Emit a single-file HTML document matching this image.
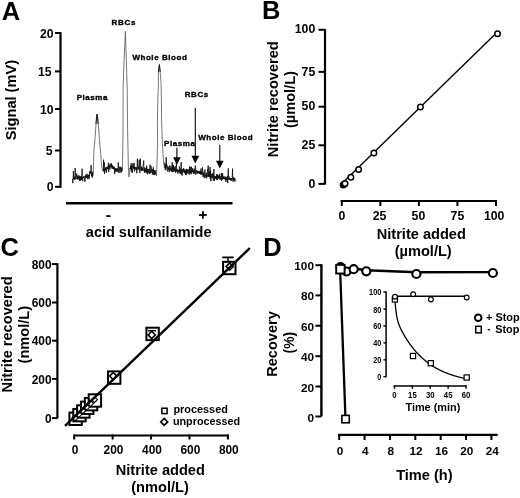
<!DOCTYPE html>
<html><head><meta charset="utf-8"><style>
html,body{margin:0;padding:0;background:#fff;}
svg{display:block;will-change:transform;}
text{font-family:"Liberation Sans",sans-serif;font-weight:bold;fill:#000;}
</style></head><body>
<svg width="520" height="498" viewBox="0 0 520 498">
<rect width="520" height="498" fill="#fff"/>
<text x="1.8" y="19.6" font-size="25.5" text-anchor="start" >A</text>
<line x1="60.5" y1="32" x2="60.5" y2="187.8" stroke="#000" stroke-width="2.2"/>
<line x1="55" y1="33" x2="60.5" y2="33" stroke="#000" stroke-width="2"/>
<text x="53.5" y="37.6" font-size="12.2" text-anchor="end" >20</text>
<line x1="55" y1="71.4" x2="60.5" y2="71.4" stroke="#000" stroke-width="2"/>
<text x="51.5" y="76.0" font-size="12.2" text-anchor="end" >15</text>
<line x1="55" y1="109" x2="60.5" y2="109" stroke="#000" stroke-width="2"/>
<text x="53.5" y="113.6" font-size="12.2" text-anchor="end" >10</text>
<line x1="55" y1="150.5" x2="60.5" y2="150.5" stroke="#000" stroke-width="2"/>
<text x="52.5" y="155.1" font-size="12.2" text-anchor="end" >5</text>
<line x1="55" y1="186.8" x2="60.5" y2="186.8" stroke="#000" stroke-width="2"/>
<text x="53.5" y="191.4" font-size="12.2" text-anchor="end" >0</text>
<text transform="translate(16.1,100.1) rotate(-90)" font-size="14.6" text-anchor="middle" >Signal (mV)</text>
<line x1="66" y1="203.2" x2="232.5" y2="203.2" stroke="#000" stroke-width="2.5"/>
<rect x="106.2" y="215.2" width="4.3" height="1.8" fill="#000"/>
<rect x="199" y="214.1" width="7.8" height="1.8" fill="#000"/>
<rect x="202" y="211.2" width="1.8" height="7.5" fill="#000"/>
<text x="148.7" y="236.5" font-size="14.5" text-anchor="middle" >acid sulfanilamide</text>
<polyline fill="none" stroke="#111" stroke-width="0.85" stroke-linejoin="bevel" points="72.50,178.86 72.80,183.14 73.10,178.81 73.40,170.96 73.70,179.11 74.00,177.27 74.30,179.31 74.60,176.70 74.90,180.00 75.20,167.99 75.50,178.65 75.80,176.63 76.10,178.86 76.40,176.56 76.70,173.58 77.00,175.97 77.30,179.21 77.60,175.88 77.90,179.85 78.20,177.16 78.50,178.49 78.80,175.25 79.10,178.59 79.40,176.13 79.70,181.04 80.00,176.11 80.30,180.93 80.60,176.83 80.90,179.33 81.20,176.26 81.50,179.84 81.80,176.28 82.10,168.67 82.40,176.69 82.70,181.20 83.00,176.85 83.30,177.93 83.60,176.54 83.90,178.09 84.20,176.34 84.50,177.53 84.80,181.84 85.10,180.92 85.40,175.35 85.70,177.53 86.00,174.48 86.30,178.02 86.60,175.87 86.90,177.07 87.20,173.91 87.50,178.56 87.80,175.75 88.10,179.15 88.40,174.83 88.70,176.61 89.00,174.92 89.30,178.44 89.60,173.00 89.90,171.13 90.20,173.57 90.50,171.43 90.80,173.54 91.10,165.14 91.40,173.75 91.70,176.30 92.00,173.50 92.30,177.66 92.60,171.66 92.90,175.41 93.20,173.52"/>
<polyline fill="none" stroke="#555" stroke-width="0.8" points="93.20,173.52 93.30,172.00 93.60,160.00 94.00,148.00 94.50,145.00 95.20,136.00 96.00,124.00 96.70,116.00 97.10,114.20 97.50,117.00 98.20,124.00 99.00,133.00 99.60,142.00 100.20,148.00 100.80,155.00 101.50,165.00 102.30,170.00 103.30,171.21"/>
<polyline fill="none" stroke="#111" stroke-width="0.9" points="96.00,124.00 96.70,116.00 97.10,114.20 97.50,117.00 98.20,124.00"/>
<polyline fill="none" stroke="#111" stroke-width="0.85" stroke-linejoin="bevel" points="103.30,171.21 103.60,159.68 103.90,171.56 104.20,162.30 104.50,173.79 104.80,168.78 105.10,170.63 105.40,168.12 105.70,169.86 106.00,167.02 106.30,172.70 106.60,167.86 106.90,168.87 107.20,166.49 107.50,168.80 107.80,167.30 108.10,169.56 108.40,162.75 108.70,172.03 109.00,166.22 109.30,167.32 109.60,164.97 109.90,169.53 110.20,163.71 110.50,166.69 110.80,165.11 111.10,167.41 111.40,163.24 111.70,167.54 112.00,164.95 112.30,168.94 112.60,165.76 112.90,168.29 113.20,166.44 113.50,168.67 113.80,166.82 114.10,169.74 114.40,166.87 114.70,174.08 115.00,168.34 115.30,171.57 115.60,168.49 115.90,170.65 116.20,168.23 116.50,171.49 116.80,168.72 117.10,171.60 117.40,168.42 117.70,171.61 118.00,168.14 118.30,162.46 118.60,168.64 118.90,173.04 119.20,168.88 119.50,170.06 119.80,166.57 120.10,172.54 120.40,167.64 120.70,169.47 121.00,167.15 121.30,172.34 121.60,167.70 121.90,171.40 122.20,167.71"/>
<polyline fill="none" stroke="#555" stroke-width="0.8" points="122.20,167.71 122.40,170.00 122.80,150.00 123.00,130.00 123.10,88.30 124.10,60.00 125.40,31.30 126.30,60.00 127.20,88.30 127.60,130.00 128.30,165.00 129.00,177.00 130.00,168.00 130.20,169.52"/>
<polyline fill="none" stroke="#111" stroke-width="0.9" points="125.40,31.30"/>
<polyline fill="none" stroke="#111" stroke-width="0.85" stroke-linejoin="bevel" points="130.20,169.52 130.50,165.99 130.80,168.65 131.10,163.25 131.40,171.60 131.70,165.26 132.00,171.25 132.30,173.01 132.60,168.59 132.90,163.28 133.20,168.41 133.50,166.28 133.80,168.82 134.10,162.86 134.40,171.46 134.70,167.10 135.00,169.79 135.30,167.25 135.60,168.32 135.90,167.15 136.20,169.96 136.50,167.42 136.80,173.26 137.10,165.67 137.40,158.73 137.70,166.98 138.00,170.00 138.30,166.60 138.60,168.89 138.90,167.07 139.20,159.74 139.50,167.48 139.80,172.90 140.10,166.48 140.40,158.77 140.70,166.69 141.00,170.54 141.30,166.66 141.60,170.97 141.90,167.12 142.20,169.88 142.50,168.37 142.80,170.79 143.10,166.19 143.40,163.79 143.70,160.51 144.00,171.24 144.30,169.06 144.60,172.94 144.90,167.56 145.20,171.43 145.50,168.26 145.80,172.34 146.10,169.82 146.40,172.10 146.70,165.68 147.00,173.76 147.30,169.11 147.60,174.25 147.90,168.82 148.20,171.72 148.50,169.41 148.80,172.67 149.10,169.23 149.40,173.97 149.70,170.63 150.00,164.81 150.30,169.59 150.60,173.24 150.90,165.86 151.20,167.62 151.50,170.48 151.80,172.58 152.10,169.22 152.40,174.04 152.70,169.35 153.00,175.01 153.30,167.27 153.60,173.09 153.90,171.61 154.20,174.95 154.50,170.08 154.80,175.16 155.10,171.96 155.40,174.12 155.70,170.05"/>
<polyline fill="none" stroke="#555" stroke-width="0.8" points="155.70,170.05 156.20,171.00 156.50,176.00 157.00,163.00 157.60,143.70 157.40,120.00 157.80,101.00 158.40,84.00 158.40,72.00 159.40,64.60 160.20,72.00 161.10,84.00 161.40,101.00 161.60,120.00 162.40,143.70 163.70,163.30 164.50,168.00 164.70,162.57"/>
<polyline fill="none" stroke="#111" stroke-width="0.9" points="158.40,72.00 159.40,64.60 160.20,72.00"/>
<polyline fill="none" stroke="#111" stroke-width="0.85" stroke-linejoin="bevel" points="164.70,162.57 165.00,165.65 165.30,170.14 165.60,164.31 165.90,168.89 166.20,157.04 166.50,167.24 166.80,164.47 167.10,170.28 167.40,171.44 167.70,168.12 168.00,166.14 168.30,170.10 168.60,167.66 168.90,168.98 169.20,172.09 169.50,169.16 169.80,165.51 170.10,170.06 170.40,168.64 170.70,170.51 171.00,166.29 171.30,171.65 171.60,168.51 171.90,171.38 172.20,162.27 172.50,171.96 172.80,164.94 173.10,171.17 173.40,165.14 173.70,171.59 174.00,167.77 174.30,171.26 174.60,167.67 174.90,170.93 175.20,166.12 175.50,172.58 175.80,169.77 176.10,171.62 176.40,161.15 176.70,171.36 177.00,169.37 177.30,172.22 177.60,169.41 177.90,173.54 178.20,170.39 178.50,171.36 178.80,169.98 179.10,172.34 179.40,166.56 179.70,172.70 180.00,170.72 180.30,174.05 180.60,168.59 180.90,173.68 181.20,162.03 181.50,174.41 181.80,169.81 182.10,175.44 182.40,169.46 182.70,172.33 183.00,169.42 183.30,171.64 183.60,168.03 183.90,172.30 184.20,169.96 184.50,173.17 184.80,169.43 185.10,173.36 185.40,170.54 185.70,174.93 186.00,169.67 186.30,174.75 186.60,168.94 186.90,173.20 187.20,169.38 187.50,172.64 187.80,169.94 188.10,173.81 188.40,170.41 188.70,171.43 189.00,169.09 189.30,174.58 189.60,166.59 189.90,172.17 190.20,166.73 190.50,173.08 190.80,170.53 191.10,174.35 191.40,166.84 191.70,172.73 192.00,168.94 192.30,172.05 192.60,168.28 192.90,172.18 193.20,170.78 193.50,174.07 193.80,169.80 194.10,171.93 194.40,168.59 194.70,173.98 195.00,170.31 195.30,165.59 195.60,168.95 195.90,174.71 196.20,170.79 196.50,172.43 196.80,170.21 197.10,172.54 197.40,171.30 197.70,173.73 198.00,171.09 198.30,172.68 198.60,171.39 198.90,173.20 199.20,170.87 199.50,174.03 199.80,172.03 200.10,173.52 200.40,171.16 200.70,174.56 201.00,168.44 201.30,173.99 201.60,171.22 201.90,175.13 202.20,171.99 202.50,167.25 202.80,173.32 203.10,176.94 203.40,172.19 203.70,175.67 204.00,173.49 204.30,178.09 204.60,174.33 204.90,169.48 205.20,174.18 205.50,176.86 205.80,174.96 206.10,178.14 206.40,172.69 206.70,178.10 207.00,174.78 207.30,176.85 207.60,169.01 207.90,171.69 208.20,165.54 208.50,176.56 208.80,172.69 209.10,177.15 209.40,171.28 209.70,176.93 210.00,166.96 210.30,178.90 210.60,170.70 210.90,181.24 211.20,175.33 211.50,176.89 211.80,174.21 212.10,178.29 212.40,173.25 212.70,177.41 213.00,173.86 213.30,180.53 213.60,173.99 213.90,168.97 214.20,175.82 214.50,181.03 214.80,176.11 215.10,178.11 215.40,176.24 215.70,178.73 216.00,176.30 216.30,178.94 216.60,174.15 216.90,180.15 217.20,174.51 217.50,179.78 217.80,174.85 218.10,177.83 218.40,176.00 218.70,178.72 219.00,175.52 219.30,178.34 219.60,173.95 219.90,179.67 220.20,176.05 220.50,178.56 220.80,177.09 221.10,179.99 221.40,172.94 221.70,180.78 222.00,174.91 222.30,179.10 222.60,173.31 222.90,179.35 223.20,176.80 223.50,178.90 223.80,176.42 224.10,178.66 224.40,177.56 224.70,179.28 225.00,176.47 225.30,179.36 225.60,177.78 225.90,182.06 226.20,177.24 226.50,180.11 226.80,177.32 227.10,179.83 227.40,176.02 227.70,183.00 228.00,173.67 228.30,168.37 228.60,177.11 228.90,179.93 229.20,176.72 229.50,179.38 229.80,178.18 230.10,179.94 230.40,178.10 230.70,180.36 231.00,178.56 231.30,180.19 231.60,178.26 231.90,180.66 232.20,178.48 232.50,168.67 232.80,178.48 233.10,181.69 233.40,177.44 233.70,179.98 234.00,177.69 234.30,180.31 234.60,177.99 234.90,181.59 235.20,178.87"/>
<text x="76.7" y="100.4" font-size="8" text-anchor="start" letter-spacing="0.55" stroke="#000" stroke-width="0.35">Plasma</text>
<text x="111.5" y="25" font-size="8" text-anchor="start" letter-spacing="0.75" stroke="#000" stroke-width="0.35">RBCs</text>
<text x="132.4" y="60" font-size="8" text-anchor="start" letter-spacing="0.55" stroke="#000" stroke-width="0.35">Whole Blood</text>
<text x="184.8" y="97" font-size="8" text-anchor="start" letter-spacing="0.55" stroke="#000" stroke-width="0.35">RBCs</text>
<text x="164.1" y="145.6" font-size="8" text-anchor="start" letter-spacing="0.55" stroke="#000" stroke-width="0.35">Plasma</text>
<text x="198.2" y="140" font-size="8" text-anchor="start" letter-spacing="0.55" stroke="#000" stroke-width="0.35">Whole Blood</text>
<line x1="176.9" y1="147.8" x2="176.9" y2="158.29999999999998" stroke="#000" stroke-width="1.1"/>
<polygon points="173.1,157.29999999999998 180.70000000000002,157.29999999999998 176.9,165.1" fill="#000"/>
<line x1="195.3" y1="108" x2="195.3" y2="156.7" stroke="#000" stroke-width="1.1"/>
<polygon points="191.5,155.7 199.10000000000002,155.7 195.3,163.5" fill="#000"/>
<line x1="219.8" y1="145" x2="219.8" y2="161.7" stroke="#000" stroke-width="1.1"/>
<polygon points="216.0,160.7 223.60000000000002,160.7 219.8,168.5" fill="#000"/>
<text x="262.0" y="19" font-size="25.5" text-anchor="start" >B</text>
<line x1="325" y1="29" x2="325" y2="184.5" stroke="#000" stroke-width="2.2"/>
<line x1="318.5" y1="29.8" x2="325" y2="29.8" stroke="#000" stroke-width="2"/>
<text x="315.3" y="33.4" font-size="12.3" text-anchor="end" >100</text>
<line x1="318.5" y1="71.9" x2="325" y2="71.9" stroke="#000" stroke-width="2"/>
<text x="315.3" y="75.5" font-size="12.3" text-anchor="end" >75</text>
<line x1="318.5" y1="106.7" x2="325" y2="106.7" stroke="#000" stroke-width="2"/>
<text x="315.3" y="110.3" font-size="12.3" text-anchor="end" >50</text>
<line x1="318.5" y1="145.3" x2="325" y2="145.3" stroke="#000" stroke-width="2"/>
<text x="315.3" y="148.9" font-size="12.3" text-anchor="end" >25</text>
<line x1="318.5" y1="183.9" x2="325" y2="183.9" stroke="#000" stroke-width="2"/>
<text x="315.3" y="187.5" font-size="12.3" text-anchor="end" >0</text>
<text transform="translate(278.1,99.2) rotate(-90)" font-size="14.6" text-anchor="middle" >Nitrite recovered</text>
<text transform="translate(295.2,99.6) rotate(-90)" font-size="14.6" text-anchor="middle" >(µmol/L)</text>
<line x1="340.7" y1="201" x2="497" y2="201" stroke="#000" stroke-width="2.2"/>
<line x1="341.8" y1="200" x2="341.8" y2="206" stroke="#000" stroke-width="2"/>
<text x="341.8" y="219.5" font-size="12.3" text-anchor="middle" >0</text>
<line x1="380.35" y1="200" x2="380.35" y2="206" stroke="#000" stroke-width="2"/>
<text x="379.55" y="219.5" font-size="12.3" text-anchor="middle" >25</text>
<line x1="418.9" y1="200" x2="418.9" y2="206" stroke="#000" stroke-width="2"/>
<text x="418.4" y="219.5" font-size="12.3" text-anchor="middle" >50</text>
<line x1="457.45" y1="200" x2="457.45" y2="206" stroke="#000" stroke-width="2"/>
<text x="457.45" y="219.5" font-size="12.3" text-anchor="middle" >75</text>
<line x1="496.0" y1="200" x2="496.0" y2="206" stroke="#000" stroke-width="2"/>
<text x="494.2" y="219.5" font-size="12.3" text-anchor="middle" >100</text>
<text x="421.3" y="239.1" font-size="14.6" text-anchor="middle" >Nitrite added</text>
<text x="423.2" y="255.6" font-size="14.6" text-anchor="middle" >(µmol/L)</text>
<line x1="343.0" y1="182.40892000000002" x2="494.3" y2="35.10929200000004" stroke="#000" stroke-width="1.4"/>
<circle cx="343.2" cy="185.0" r="2.75" fill="#fff" stroke="#000" stroke-width="1.5"/>
<circle cx="344.2" cy="184.3" r="2.75" fill="#fff" stroke="#000" stroke-width="1.5"/>
<circle cx="345.0" cy="183.6" r="2.75" fill="#fff" stroke="#000" stroke-width="1.5"/>
<circle cx="350.9" cy="177.3" r="2.75" fill="#fff" stroke="#000" stroke-width="1.5"/>
<circle cx="358.6" cy="169.4" r="2.75" fill="#fff" stroke="#000" stroke-width="1.5"/>
<circle cx="373.9" cy="153.1" r="2.75" fill="#fff" stroke="#000" stroke-width="1.5"/>
<circle cx="420.4" cy="107.0" r="2.75" fill="#fff" stroke="#000" stroke-width="1.5"/>
<circle cx="497.5" cy="33.8" r="2.75" fill="#fff" stroke="#000" stroke-width="1.5"/>
<text x="0.6" y="255.6" font-size="25.5" text-anchor="start" >C</text>
<line x1="57.4" y1="263.2" x2="57.4" y2="418.5" stroke="#000" stroke-width="2.2"/>
<line x1="52" y1="264.1" x2="57.4" y2="264.1" stroke="#000" stroke-width="2"/>
<text x="51.6" y="268.70000000000005" font-size="11.9" text-anchor="end" >800</text>
<line x1="52" y1="302.5" x2="57.4" y2="302.5" stroke="#000" stroke-width="2"/>
<text x="51.6" y="307.1" font-size="11.9" text-anchor="end" >600</text>
<line x1="52" y1="340.7" x2="57.4" y2="340.7" stroke="#000" stroke-width="2"/>
<text x="51.6" y="345.3" font-size="11.9" text-anchor="end" >400</text>
<line x1="52" y1="378.9" x2="57.4" y2="378.9" stroke="#000" stroke-width="2"/>
<text x="51.6" y="383.5" font-size="11.9" text-anchor="end" >200</text>
<line x1="52" y1="418.1" x2="57.4" y2="418.1" stroke="#000" stroke-width="2"/>
<text x="51.6" y="422.70000000000005" font-size="11.9" text-anchor="end" >0</text>
<text transform="translate(12.1,334.4) rotate(-90)" font-size="14.6" text-anchor="middle" >Nitrite recovered</text>
<text transform="translate(28.8,334.7) rotate(-90)" font-size="14.6" text-anchor="middle" >(nmol/L)</text>
<line x1="73.8" y1="435.5" x2="228.8" y2="435.5" stroke="#000" stroke-width="2.2"/>
<line x1="74.2" y1="434.5" x2="74.2" y2="439.5" stroke="#000" stroke-width="2"/>
<text x="75.10000000000001" y="453.5" font-size="11.9" text-anchor="middle" >0</text>
<line x1="112.63" y1="434.5" x2="112.63" y2="439.5" stroke="#000" stroke-width="2"/>
<text x="113.53" y="453.5" font-size="11.9" text-anchor="middle" >200</text>
<line x1="151.06" y1="434.5" x2="151.06" y2="439.5" stroke="#000" stroke-width="2"/>
<text x="151.96" y="453.5" font-size="11.9" text-anchor="middle" >400</text>
<line x1="189.49" y1="434.5" x2="189.49" y2="439.5" stroke="#000" stroke-width="2"/>
<text x="190.39000000000001" y="453.5" font-size="11.9" text-anchor="middle" >600</text>
<line x1="227.92000000000002" y1="434.5" x2="227.92000000000002" y2="439.5" stroke="#000" stroke-width="2"/>
<text x="228.82000000000002" y="453.5" font-size="11.9" text-anchor="middle" >800</text>
<text x="160.3" y="475.3" font-size="14.6" text-anchor="middle" >Nitrite added</text>
<text x="160" y="491.6" font-size="14.6" text-anchor="middle" >(nmol/L)</text>
<rect x="223.10000000000002" y="261.8" width="12.4" height="12.4" fill="#fff" stroke="#000" stroke-width="2"/>
<rect x="146.4" y="327.7" width="12.4" height="12.4" fill="#fff" stroke="#000" stroke-width="2"/>
<rect x="108.0" y="371.40000000000003" width="12.4" height="12.4" fill="#fff" stroke="#000" stroke-width="2"/>
<rect x="69.39999999999999" y="412.6" width="12.4" height="12.4" fill="#fff" stroke="#000" stroke-width="2"/>
<rect x="73.25999999999999" y="408.94" width="12.4" height="12.4" fill="#fff" stroke="#000" stroke-width="2"/>
<rect x="77.11999999999999" y="405.28000000000003" width="12.4" height="12.4" fill="#fff" stroke="#000" stroke-width="2"/>
<rect x="80.97999999999999" y="401.62" width="12.4" height="12.4" fill="#fff" stroke="#000" stroke-width="2"/>
<rect x="84.83999999999999" y="397.96000000000004" width="12.4" height="12.4" fill="#fff" stroke="#000" stroke-width="2"/>
<rect x="88.69999999999999" y="394.3" width="12.4" height="12.4" fill="#fff" stroke="#000" stroke-width="2"/>
<line x1="228" y1="257.5" x2="228" y2="262" stroke="#000" stroke-width="1.5"/>
<line x1="222.3" y1="257.4" x2="233.7" y2="257.4" stroke="#000" stroke-width="1.8"/>
<line x1="148" y1="330.7" x2="156" y2="330.7" stroke="#000" stroke-width="1.5"/>
<polygon points="229.7,263.0 233.29999999999998,266.6 229.7,270.20000000000005 226.1,266.6" fill="#fff" stroke="#000" stroke-width="1.6"/>
<polygon points="151.7,331.29999999999995 155.29999999999998,334.9 151.7,338.5 148.1,334.9" fill="#fff" stroke="#000" stroke-width="1.6"/>
<polygon points="113.3,372.5 116.89999999999999,376.1 113.3,379.70000000000005 109.7,376.1" fill="#fff" stroke="#000" stroke-width="1.6"/>
<polygon points="75.1,415.0 78.1,418.0 75.1,421.0 72.1,418.0" fill="#fff" stroke="#000" stroke-width="1.1"/>
<polygon points="78.96,411.34 81.96,414.34 78.96,417.34 75.96,414.34" fill="#fff" stroke="#000" stroke-width="1.1"/>
<polygon points="82.82,407.68 85.82,410.68 82.82,413.68 79.82,410.68" fill="#fff" stroke="#000" stroke-width="1.1"/>
<polygon points="86.67999999999999,404.02 89.67999999999999,407.02 86.67999999999999,410.02 83.67999999999999,407.02" fill="#fff" stroke="#000" stroke-width="1.1"/>
<polygon points="90.53999999999999,400.36 93.53999999999999,403.36 90.53999999999999,406.36 87.53999999999999,403.36" fill="#fff" stroke="#000" stroke-width="1.1"/>
<polygon points="94.39999999999999,396.7 97.39999999999999,399.7 94.39999999999999,402.7 91.39999999999999,399.7" fill="#fff" stroke="#000" stroke-width="1.1"/>
<line x1="65" y1="425.83705" x2="249.8" y2="248.16478599999996" stroke="#000" stroke-width="2.4"/>
<rect x="161.9" y="408.2" width="5.2" height="5.4" fill="none" stroke="#000" stroke-width="1.5"/>
<polygon points="164.2,418.4 167.7,421.9 164.2,425.4 160.7,421.9" fill="#fff" stroke="#000" stroke-width="1.6"/>
<text x="173.4" y="413.3" font-size="10.9" text-anchor="start" >processed</text>
<text x="172.9" y="424.8" font-size="10.8" text-anchor="start" >unprocessed</text>
<text x="263.2" y="255.8" font-size="25.5" text-anchor="start" >D</text>
<line x1="321.4" y1="264.2" x2="321.4" y2="416.5" stroke="#000" stroke-width="2.4"/>
<line x1="315.4" y1="265.2" x2="321.4" y2="265.2" stroke="#000" stroke-width="2"/>
<text x="314.0" y="270.2" font-size="11.8" text-anchor="end" >100</text>
<line x1="315.4" y1="295.4" x2="321.4" y2="295.4" stroke="#000" stroke-width="2"/>
<text x="314.0" y="300.4" font-size="11.8" text-anchor="end" >80</text>
<line x1="315.4" y1="325.7" x2="321.4" y2="325.7" stroke="#000" stroke-width="2"/>
<text x="314.0" y="330.7" font-size="11.8" text-anchor="end" >60</text>
<line x1="315.4" y1="356.2" x2="321.4" y2="356.2" stroke="#000" stroke-width="2"/>
<text x="314.0" y="361.2" font-size="11.8" text-anchor="end" >40</text>
<line x1="315.4" y1="386.5" x2="321.4" y2="386.5" stroke="#000" stroke-width="2"/>
<text x="314.0" y="391.5" font-size="11.8" text-anchor="end" >20</text>
<line x1="315.4" y1="416.5" x2="321.4" y2="416.5" stroke="#000" stroke-width="2"/>
<text x="314.0" y="421.5" font-size="11.8" text-anchor="end" >0</text>
<text transform="translate(276.8,344) rotate(-90)" font-size="14.6" text-anchor="middle" >Recovery</text>
<text transform="translate(293.6,342.7) rotate(-90)" font-size="13.8" text-anchor="middle" >(%)</text>
<line x1="338.2" y1="434.8" x2="497.7" y2="434.8" stroke="#000" stroke-width="2.3"/>
<line x1="339.2" y1="434" x2="339.2" y2="440" stroke="#000" stroke-width="2"/>
<text x="340.0" y="455" font-size="11.8" text-anchor="middle" >0</text>
<line x1="364.57" y1="434" x2="364.57" y2="440" stroke="#000" stroke-width="2"/>
<text x="365.37" y="455" font-size="11.8" text-anchor="middle" >4</text>
<line x1="389.94" y1="434" x2="389.94" y2="440" stroke="#000" stroke-width="2"/>
<text x="390.74" y="455" font-size="11.8" text-anchor="middle" >8</text>
<line x1="415.31" y1="434" x2="415.31" y2="440" stroke="#000" stroke-width="2"/>
<text x="416.11" y="455" font-size="11.8" text-anchor="middle" >12</text>
<line x1="440.68" y1="434" x2="440.68" y2="440" stroke="#000" stroke-width="2"/>
<text x="441.48" y="455" font-size="11.8" text-anchor="middle" >16</text>
<line x1="466.05" y1="434" x2="466.05" y2="440" stroke="#000" stroke-width="2"/>
<text x="466.85" y="455" font-size="11.8" text-anchor="middle" >20</text>
<line x1="491.41999999999996" y1="434" x2="491.41999999999996" y2="440" stroke="#000" stroke-width="2"/>
<text x="492.21999999999997" y="455" font-size="11.8" text-anchor="middle" >24</text>
<text x="424.4" y="480" font-size="14.6" text-anchor="middle" >Time (h)</text>
<polyline fill="none" stroke="#000" stroke-width="2.4" points="340.5,266.5 346.5,270 353.7,268.5 366.3,270.2 416.4,272.3 492.9,272.1"/>
<circle cx="340.5" cy="267" r="4.05" fill="#fff" stroke="#000" stroke-width="2.1"/>
<circle cx="346.5" cy="271.5" r="4.05" fill="#fff" stroke="#000" stroke-width="2.1"/>
<circle cx="353.7" cy="269.2" r="4.05" fill="#fff" stroke="#000" stroke-width="2.1"/>
<circle cx="366.3" cy="271.3" r="4.05" fill="#fff" stroke="#000" stroke-width="2.1"/>
<circle cx="416.4" cy="274" r="4.05" fill="#fff" stroke="#000" stroke-width="2.1"/>
<circle cx="492.9" cy="273" r="4.05" fill="#fff" stroke="#000" stroke-width="2.1"/>
<line x1="340.1" y1="269" x2="345.5" y2="419" stroke="#000" stroke-width="2.3"/>
<rect x="336.2" y="264.9" width="8.4" height="8.6" fill="#fff" stroke="#000" stroke-width="1.9"/>
<rect x="341.9" y="415.4" width="7.4" height="7.4" fill="#fff" stroke="#000" stroke-width="1.6"/>
<line x1="386.1" y1="291.3" x2="386.1" y2="377.2" stroke="#000" stroke-width="1.5"/>
<line x1="383.4" y1="292" x2="386.1" y2="292" stroke="#000" stroke-width="1.4"/>
<text transform="translate(381.3,295.4) scale(0.87,1)" font-size="8.4" text-anchor="end">100</text>
<line x1="383.4" y1="309.1" x2="386.1" y2="309.1" stroke="#000" stroke-width="1.4"/>
<text transform="translate(381.3,312.5) scale(0.87,1)" font-size="8.4" text-anchor="end">80</text>
<line x1="383.4" y1="326" x2="386.1" y2="326" stroke="#000" stroke-width="1.4"/>
<text transform="translate(381.3,329.4) scale(0.87,1)" font-size="8.4" text-anchor="end">60</text>
<line x1="383.4" y1="342.9" x2="386.1" y2="342.9" stroke="#000" stroke-width="1.4"/>
<text transform="translate(381.3,346.3) scale(0.87,1)" font-size="8.4" text-anchor="end">40</text>
<line x1="383.4" y1="359.8" x2="386.1" y2="359.8" stroke="#000" stroke-width="1.4"/>
<text transform="translate(381.3,363.2) scale(0.87,1)" font-size="8.4" text-anchor="end">20</text>
<line x1="383.4" y1="376.7" x2="386.1" y2="376.7" stroke="#000" stroke-width="1.4"/>
<text transform="translate(381.3,380.1) scale(0.87,1)" font-size="8.4" text-anchor="end">0</text>
<line x1="393.7" y1="386.1" x2="466.7" y2="386.1" stroke="#000" stroke-width="1.5"/>
<line x1="394.5" y1="385.5" x2="394.5" y2="388.8" stroke="#000" stroke-width="1.4"/>
<text transform="translate(394.50,398.1) scale(0.92,1)" font-size="8.4" text-anchor="middle">0</text>
<line x1="412.38" y1="385.5" x2="412.38" y2="388.8" stroke="#000" stroke-width="1.4"/>
<text transform="translate(412.38,398.1) scale(0.92,1)" font-size="8.4" text-anchor="middle">15</text>
<line x1="430.26" y1="385.5" x2="430.26" y2="388.8" stroke="#000" stroke-width="1.4"/>
<text transform="translate(430.26,398.1) scale(0.92,1)" font-size="8.4" text-anchor="middle">30</text>
<line x1="448.14" y1="385.5" x2="448.14" y2="388.8" stroke="#000" stroke-width="1.4"/>
<text transform="translate(448.14,398.1) scale(0.92,1)" font-size="8.4" text-anchor="middle">45</text>
<line x1="466.02" y1="385.5" x2="466.02" y2="388.8" stroke="#000" stroke-width="1.4"/>
<text transform="translate(466.02,398.1) scale(0.92,1)" font-size="8.4" text-anchor="middle">60</text>
<text x="432.9" y="411.2" font-size="10.9" text-anchor="middle" >Time (min)</text>
<polyline fill="none" stroke="#000" stroke-width="1.3" points="394.90,299.43 395.15,302.78 395.40,305.68 395.65,308.21 395.90,310.42 396.15,312.37 396.40,314.08 396.65,315.61 396.90,316.98 397.15,318.21 397.40,319.32 397.65,320.34 397.90,321.28 398.15,322.14 398.40,322.95 398.65,323.71 398.90,324.42 399.15,325.09 399.40,325.74 399.65,326.36 399.90,326.95 400.15,327.52 400.40,328.08 400.65,328.62 400.90,329.14 401.15,329.66 401.40,330.16 401.65,330.65 401.90,331.14 402.15,331.61 402.40,332.08 402.65,332.54 402.90,333.00 403.15,333.45 403.40,333.90 403.65,334.34 403.90,334.77 404.15,335.20 404.40,335.63 404.65,336.05 404.90,336.46 405.15,336.88 405.40,337.29 405.65,337.69 405.90,338.09 406.15,338.49 406.40,338.89 406.65,339.28 406.90,339.66 407.15,340.05 407.40,340.43 407.65,340.81 407.90,341.18 408.15,341.55 408.40,341.92 408.65,342.28 408.90,342.64 409.15,343.00 409.40,343.36 409.65,343.71 409.90,344.06 410.15,344.40 410.40,344.75 410.65,345.09 410.90,345.42 411.15,345.76 411.40,346.09 411.65,346.42 411.90,346.74 412.15,347.07 412.40,347.39 412.65,347.71 412.90,348.02 413.15,348.33 413.40,348.64 413.65,348.95 413.90,349.25 414.15,349.55 414.40,349.85 414.65,350.15 414.90,350.44 415.15,350.73 415.40,351.02 415.65,351.31 415.90,351.59 416.15,351.88 416.40,352.15 416.65,352.43 416.90,352.71 417.15,352.98 417.40,353.25 417.65,353.52 417.90,353.78 418.15,354.04 418.40,354.30 418.65,354.56 418.90,354.82 419.15,355.07 419.40,355.32 419.65,355.57 419.90,355.82 420.15,356.07 420.40,356.31 420.65,356.55 420.90,356.79 421.15,357.03 421.40,357.26 421.65,357.50 421.90,357.73 422.15,357.96 422.40,358.18 422.65,358.41 422.90,358.63 423.15,358.85 423.40,359.07 423.65,359.29 423.90,359.51 424.15,359.72 424.40,359.93 424.65,360.14 424.90,360.35 425.15,360.56 425.40,360.77 425.65,360.97 425.90,361.17 426.15,361.37 426.40,361.57 426.65,361.76 426.90,361.96 427.15,362.15 427.40,362.34 427.65,362.53 427.90,362.72 428.15,362.91 428.40,363.09 428.65,363.28 428.90,363.46 429.15,363.64 429.40,363.82 429.65,364.00 429.90,364.17 430.15,364.35 430.40,364.52 430.65,364.69 430.90,364.86 431.15,365.03 431.40,365.19 431.65,365.36 431.90,365.52 432.15,365.69 432.40,365.85 432.65,366.01 432.90,366.17 433.15,366.32 433.40,366.48 433.65,366.63 433.90,366.79 434.15,366.94 434.40,367.09 434.65,367.24 434.90,367.39 435.15,367.53 435.40,367.68 435.65,367.82 435.90,367.97 436.15,368.11 436.40,368.25 436.65,368.39 436.90,368.53 437.15,368.66 437.40,368.80 437.65,368.93 437.90,369.07 438.15,369.20 438.40,369.33 438.65,369.46 438.90,369.59 439.15,369.72 439.40,369.85 439.65,369.97 439.90,370.10 440.15,370.22 440.40,370.34 440.65,370.46 440.90,370.59 441.15,370.70 441.40,370.82 441.65,370.94 441.90,371.06 442.15,371.17 442.40,371.29 442.65,371.40 442.90,371.51 443.15,371.62 443.40,371.74 443.65,371.85 443.90,371.95 444.15,372.06 444.40,372.17 444.65,372.27 444.90,372.38 445.15,372.48 445.40,372.59 445.65,372.69 445.90,372.79 446.15,372.89 446.40,372.99 446.65,373.09 446.90,373.19 447.15,373.29 447.40,373.38 447.65,373.48 447.90,373.57 448.15,373.67 448.40,373.76 448.65,373.85 448.90,373.94 449.15,374.03 449.40,374.13 449.65,374.21 449.90,374.30 450.15,374.39 450.40,374.48 450.65,374.56 450.90,374.65 451.15,374.73 451.40,374.82 451.65,374.90 451.90,374.98 452.15,375.07 452.40,375.15 452.65,375.23 452.90,375.31 453.15,375.39 453.40,375.47 453.65,375.54 453.90,375.62 454.15,375.70 454.40,375.77 454.65,375.85 454.90,375.92 455.15,376.00 455.40,376.07 455.65,376.14 455.90,376.22 456.15,376.29 456.40,376.36 456.65,376.43 456.90,376.50 457.15,376.57 457.40,376.63 457.65,376.70 457.90,376.77 458.15,376.84 458.40,376.90 458.65,376.97 458.90,377.03 459.15,377.10 459.40,377.16 459.65,377.23 459.90,377.29 460.15,377.35 460.40,377.41 460.65,377.47 460.90,377.53 461.15,377.59 461.40,377.65 461.65,377.71 461.90,377.77 462.15,377.83 462.40,377.89 462.65,377.95 462.90,378.00 463.15,378.06 463.40,378.11 463.65,378.17 463.90,378.22 464.15,378.28 464.40,378.33 464.65,378.39 464.90,378.44 465.15,378.49 465.40,378.54 465.65,378.59 465.90,378.65 466.15,378.70 466.40,378.75"/>
<line x1="394.5" y1="296.2" x2="466.3" y2="296.2" stroke="#000" stroke-width="1.5"/>
<rect x="392.29999999999995" y="296.9" width="5.2" height="5.2" fill="#fff" stroke="#000" stroke-width="1.2"/>
<rect x="410.4" y="353.4" width="5.2" height="5.2" fill="#fff" stroke="#000" stroke-width="1.2"/>
<rect x="428.2" y="360.59999999999997" width="5.2" height="5.2" fill="#fff" stroke="#000" stroke-width="1.2"/>
<rect x="464.09999999999997" y="374.9" width="5.2" height="5.2" fill="#fff" stroke="#000" stroke-width="1.2"/>
<circle cx="395" cy="296.8" r="2.4" fill="#fff" stroke="#000" stroke-width="1.15"/>
<circle cx="413.2" cy="294.2" r="2.4" fill="#fff" stroke="#000" stroke-width="1.15"/>
<circle cx="430.9" cy="299.4" r="2.4" fill="#fff" stroke="#000" stroke-width="1.15"/>
<circle cx="466.7" cy="297.5" r="2.4" fill="#fff" stroke="#000" stroke-width="1.15"/>
<circle cx="478.2" cy="317.7" r="3.3" fill="#fff" stroke="#000" stroke-width="2"/>
<rect x="475.7" y="326.3" width="5.6" height="6.6" fill="#fff" stroke="#000" stroke-width="1.5"/>
<text x="486.0" y="320.8" font-size="10.9" text-anchor="start" >+ Stop</text>
<rect x="487.7" y="329" width="2.4" height="1.3" fill="#000"/>
<text x="495.2" y="333.4" font-size="10.9" text-anchor="start" >Stop</text>
</svg>
</body></html>
